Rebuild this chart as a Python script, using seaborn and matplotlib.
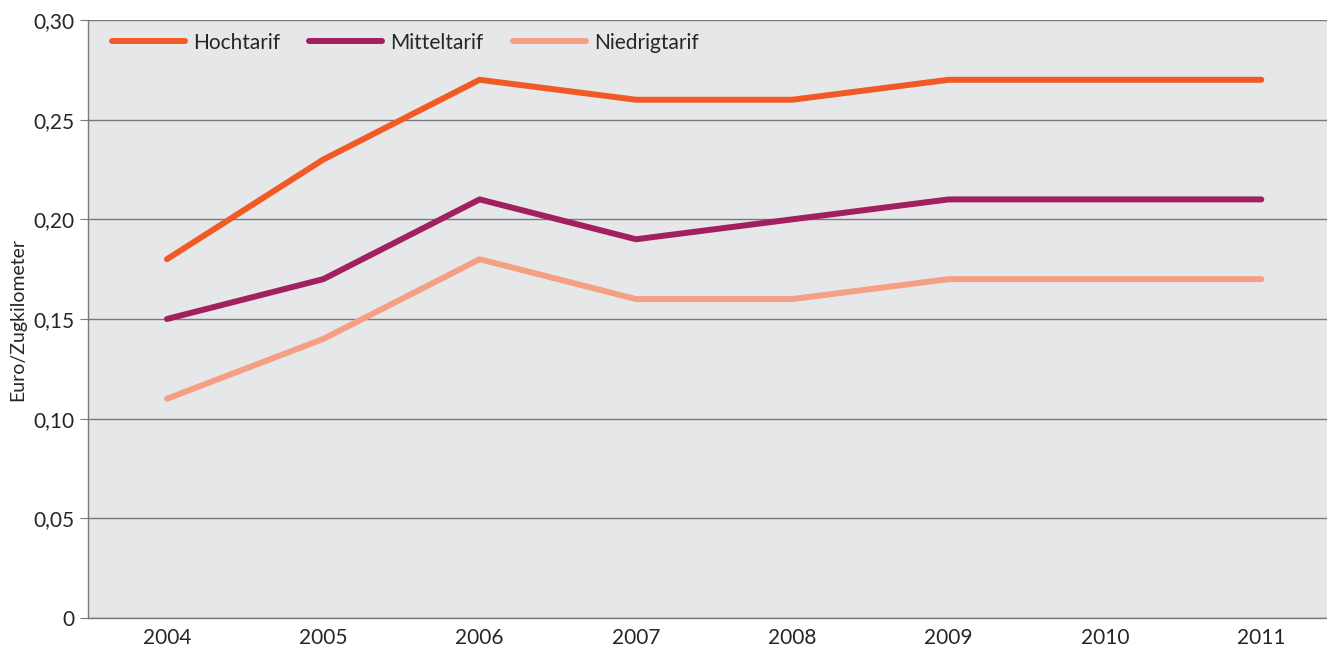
import pandas as pd
import seaborn as sns
import matplotlib.pyplot as plt
from matplotlib.ticker import FuncFormatter

years = ["2004", "2005", "2006", "2007", "2008", "2009", "2010", "2011"]
hochtarif = [0.18, 0.23, 0.27, 0.26, 0.26, 0.27, 0.27, 0.27]
mitteltarif = [0.15, 0.17, 0.21, 0.19, 0.20, 0.21, 0.21, 0.21]
niedrigtarif = [0.11, 0.14, 0.18, 0.16, 0.16, 0.17, 0.17, 0.17]
series_names = ["Hochtarif", "Mitteltarif", "Niedrigtarif"]
colors = ["#f15a24", "#a2205f", "#f5a084"]

df = pd.DataFrame({"Jahr": years * 3,
                   "Wert": hochtarif + mitteltarif + niedrigtarif,
                   "Tarif": [n for n in series_names for _ in years]})

sns.set_style("white")
plt.rcParams['font.family'] = ['Lato', 'DejaVu Sans']

fig = plt.figure(figsize=(13.27, 6.46), dpi=100)
ax = fig.add_axes([88 / 1327, 1 - 618 / 646, 1 - 88 / 1327, 598 / 646])
ax.set_facecolor("#e6e7e9")

sns.lineplot(data=df, x="Jahr", y="Wert", hue="Tarif", palette=colors,
             linewidth=4.3, ax=ax, solid_capstyle="round", sort=False)

ax.set_ylim(0, 0.30)
ax.set_xlim(-0.505, 7.42)
ax.set_yticks([0, 0.05, 0.10, 0.15, 0.20, 0.25, 0.30])
ax.yaxis.set_major_formatter(FuncFormatter(
    lambda v, p: "0" if v == 0 else f"{v:.2f}".replace(".", ",")))
ax.grid(axis="y", color="#7a7a7a", linewidth=1)
ax.set_axisbelow(True)
for s in ["top", "right"]:
    ax.spines[s].set_visible(False)
for s in ["left", "bottom"]:
    ax.spines[s].set_color("#7a7a7a")
    ax.spines[s].set_linewidth(1)
ax.tick_params(axis="y", left=True, length=6, color="#7a7a7a", labelsize=15, pad=4)
ax.tick_params(axis="x", bottom=False, labelsize=15, pad=4)
ax.set_xlabel("")
ax.set_ylabel("Euro/Zugkilometer", fontsize=14, labelpad=5)

leg = ax.legend(loc="upper left", ncol=3, frameon=False, fontsize=15,
                handlelength=3.5, handletextpad=0.4, columnspacing=1.4,
                bbox_to_anchor=(0.004, 1.01))
for h in leg.get_lines():
    h.set_linewidth(4.3)
    h.set_solid_capstyle("round")

fig.savefig("out.png", dpi=100)
